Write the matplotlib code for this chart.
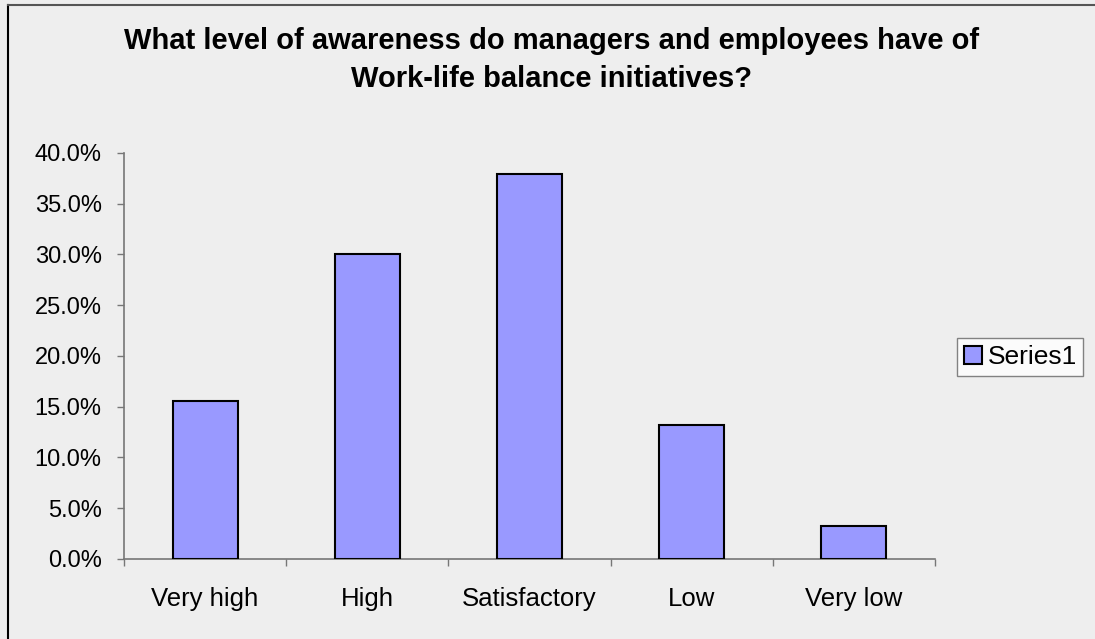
import numpy as np
import matplotlib.pyplot as plt
from matplotlib.lines import Line2D
from matplotlib.ticker import PercentFormatter

plt.rcParams['font.family'] = ['Liberation Sans', 'DejaVu Sans']

categories = ["Very high", "High", "Satisfactory", "Low", "Very low"]
series1 = [15.6, 30.0, 37.9, 13.2, 3.3]   # percent
y_ticks = np.arange(0, 45, 5)

bg = '#eeeeee'
fig = plt.figure(figsize=(10.95, 6.39), dpi=100, facecolor=bg)
ax = fig.add_axes([0.1132, 0.1252, 0.8539 - 0.1132, 0.7606 - 0.1252])
ax.set_facecolor(bg)

x = np.arange(len(categories))
ax.bar(x, series1, width=0.4, color='#9999ff', edgecolor='black', linewidth=1.5,
       label='Series1', zorder=3)

ax.set_xlim(-0.5, len(categories) - 0.5)
ax.set_ylim(0, 40)
ax.set_yticks(y_ticks)
ax.yaxis.set_major_formatter(PercentFormatter(decimals=1))

# category labels centred, tick marks between categories
ax.set_xticks(x)
ax.set_xticklabels(categories)
ax.set_xticks(np.arange(-0.5, len(categories), 1.0), minor=True)
ax.tick_params(axis='x', which='major', length=0, pad=20, labelsize=18.5)
ax.tick_params(axis='x', which='minor', length=5, width=1, color='#777777', direction='out')
ax.tick_params(axis='y', length=5, width=1, color='#777777', pad=11, labelsize=17)

for s in ['top', 'right']:
    ax.spines[s].set_visible(False)
for s in ['left', 'bottom']:
    ax.spines[s].set_color('#777777')
    ax.spines[s].set_linewidth(1.2)

title_lines = ["What level of awareness do managers and employees have of",
               "Work-life balance initiatives?"]
fig.text(0.504, 1 - 49 / 639, title_lines[0], ha='center', va='baseline',
         fontsize=21, fontweight='bold')
fig.text(0.504, 1 - 87 / 639, title_lines[1], ha='center', va='baseline',
         fontsize=21, fontweight='bold')

leg = fig.legend(loc='center left', bbox_to_anchor=(0.874, 0.4413), fontsize=19,
                 frameon=True, fancybox=False, edgecolor='#666666', facecolor='white',
                 handlelength=0.7, handleheight=0.7, handletextpad=0.2,
                 borderpad=0.25, borderaxespad=0)
leg.get_frame().set_linewidth(1.0)

# border on left and top edges of the chart area
fig.add_artist(Line2D([8 / 1095, 8 / 1095], [0, 1 - 5 / 639], color='black', lw=1.5,
                      transform=fig.transFigure))
fig.add_artist(Line2D([8 / 1095, 1], [1 - 5 / 639, 1 - 5 / 639], color='#555555', lw=1.5,
                      transform=fig.transFigure))

plt.savefig("out.png", dpi=100, facecolor=bg)
